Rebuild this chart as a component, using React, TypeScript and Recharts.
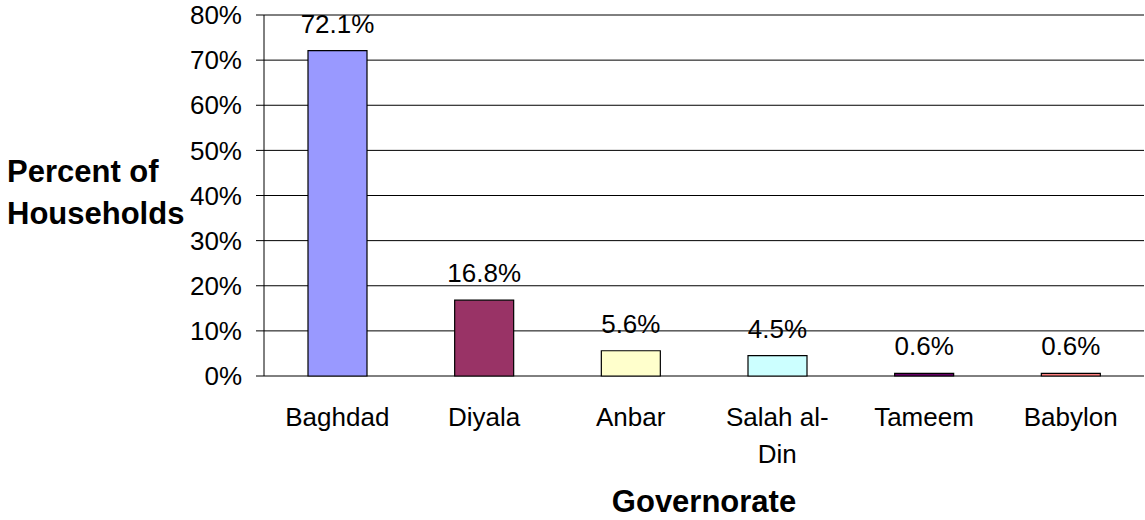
import React from 'react';
import { BarChart, Bar, XAxis, YAxis, CartesianGrid, LabelList, Cell, Label } from 'recharts';

const categories = ['Baghdad', 'Diyala', 'Anbar', 'Salah al-Din', 'Tameem', 'Babylon'];
const values = [72.1, 16.8, 5.6, 4.5, 0.6, 0.6];
const colors = ['#9999FF', '#993366', '#FFFFCC', '#CCFFFF', '#660066', '#FF8080'];
const yTicks = [0, 10, 20, 30, 40, 50, 60, 70, 80];
const edgeTicks = [0, 1, 2, 3, 4, 5, 6];

const data = categories.map((c, i) => ({ name: c, value: values[i] }));

const FONT = 'Liberation Sans, Arial, sans-serif';

const XTick = (props: any) => {
  const { x, y, payload } = props;
  const label: string = payload.value;
  const idx = label.indexOf('-');
  const lines = idx >= 0 ? [label.slice(0, idx + 1), label.slice(idx + 1)] : [label];
  return (
    <text x={x} y={y} textAnchor="middle" fill="#000" fontSize={26} fontFamily={FONT}>
      {lines.map((l, i) => (
        <tspan key={i} x={x} dy={i === 0 ? 42 : 37}>{l}</tspan>
      ))}
    </text>
  );
};

const YLabel = () => (
  <text textAnchor="start" fill="#000" fontSize={31} fontWeight="bold" fontFamily={FONT}>
    <tspan x={7} y={182}>Percent of</tspan>
    <tspan x={7} y={224}>Households</tspan>
  </text>
);

export default function App() {
  return (
    <div style={{ position: 'absolute', left: 0, top: 0, background: '#fff' }}>
      <BarChart
        width={1145}
        height={520}
        data={data}
        margin={{ top: 15, right: 1, left: 194, bottom: 0 }}
        barCategoryGap="30%"
      >
        <CartesianGrid vertical={false} stroke="#000" strokeWidth={1} />
        <XAxis
          xAxisId="edges"
          type="number"
          domain={[0, 6]}
          ticks={edgeTicks}
          height={0}
          tick={() => <g />}
          tickLine={{ stroke: '#000' }}
          tickSize={8}
          axisLine={{ stroke: '#000' }}
          allowDataOverflow
        />
        <XAxis
          dataKey="name"
          xAxisId="cat"
          height={144}
          tickLine={false}
          axisLine={false}
          tick={<XTick />}
          interval={0}
        >
          <Label value="Governorate" position="insideBottom" offset={8} fill="#000" fontSize={31} fontWeight="bold" fontFamily={FONT} />
        </XAxis>
        <YAxis
          width={70}
          domain={[0, 80]}
          ticks={yTicks}
          tickFormatter={(v: number) => `${v}%`}
          axisLine={{ stroke: '#000' }}
          tickLine={{ stroke: '#000' }}
          tickSize={8}
          tickMargin={14}
          tick={{ fill: '#000', fontSize: 26, fontFamily: FONT }}
          interval={0}
        >
          <Label content={<YLabel />} />
        </YAxis>
        <Bar dataKey="value" xAxisId="cat" stroke="#000" strokeWidth={1.2} isAnimationActive={false}>
          {data.map((d, i) => (
            <Cell key={d.name} fill={colors[i]} />
          ))}
          <LabelList
            dataKey="value"
            position="top"
            offset={18}
            formatter={(v: any) => `${Number(v).toFixed(1)}%`}
            fill="#000"
            fontSize={26}
            fontFamily={FONT}
          />
        </Bar>
      </BarChart>
    </div>
  );
}
